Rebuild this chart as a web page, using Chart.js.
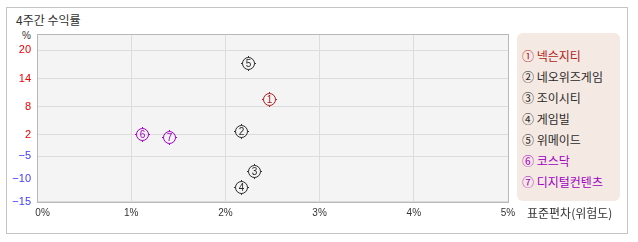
<!DOCTYPE html>
<html>
<head>
<meta charset="utf-8">
<script src="https://cdn.jsdelivr.net/npm/chart.js@4.4.1/dist/chart.umd.min.js"></script>
<style>
  html, body { margin:0; padding:0; background:#fff; }
  #wrap { position:relative; width:638px; height:242px; overflow:hidden; }
  #frame { position:absolute; left:6px; top:7px; width:622px; height:227px; box-sizing:border-box; border:1px solid #c4c4c4; }
  #title { position:absolute; left:16px; top:12px; font:12px "Noto Sans CJK KR", sans-serif; color:#333; line-height:16px; }
  #pct { position:absolute; left:22px; top:30px; font:10px "Liberation Sans", Arial, sans-serif; color:#333; }
  #xtitle { position:absolute; left:527px; top:205px; font:12px "Noto Sans CJK KR", sans-serif; color:#333; line-height:16px; }
  #legend { position:absolute; left:517px; top:33px; width:103px; height:168px; background:#f5e9e3; border-radius:6px; box-sizing:border-box; padding:12px 0 0 5px; }
  #legend div { font:12px "Noto Sans CJK KR", sans-serif; line-height:21px; height:21px; white-space:nowrap; }
  canvas { position:absolute; left:0; top:0; }
</style>
</head>
<body>
<div id="wrap">
  <div id="frame"></div>
  <div id="title">4주간 수익률</div>
  <div id="pct">%</div>
  <canvas id="c" width="638" height="242"></canvas>
  <div id="legend"></div>
  <div id="xtitle">표준편차(위험도)</div>
</div>
<script>
// ---- data ----
const names = ['넥슨지티', '네오위즈게임', '조이시티', '게임빌', '위메이드', '코스닥', '디지털컨텐츠'];
const marks = ['①', '②', '③', '④', '⑤', '⑥', '⑦'];
const stdDev = [2.46, 2.17, 2.30, 2.17, 2.24, 1.11, 1.40];   // x: 표준편차 (%)
const returns = [9.7, 2.8, -8.2, -11.8, 17.4, 2.15, 1.2];   // y: 4주간 수익률 (%)
const xTicks = [0, 1, 2, 3, 4, 5];
const yTicks = [20, 14, 8, 2, -5, -10, -15];
const colors = ['#b01c1c', '#2a2a2a', '#2a2a2a', '#2a2a2a', '#2a2a2a', '#a000c0', '#a000c0'];

// ---- non-uniform y scale (tick spacing of the original chart) ----
const knotVals = [-15, -10, -5, 2, 8, 14, 20, 23.5];
const knotPos  = [0, 0.134, 0.270, 0.399, 0.566, 0.733, 0.903, 1];
function toFrac(v) {
  let i = 0;
  while (i < knotVals.length - 2 && v > knotVals[i + 1]) i++;
  const a = knotVals[i], b = knotVals[i + 1];
  return knotPos[i] + (v - a) / (b - a) * (knotPos[i + 1] - knotPos[i]);
}
function fromFrac(f) {
  let i = 0;
  while (i < knotPos.length - 2 && f > knotPos[i + 1]) i++;
  const a = knotPos[i], b = knotPos[i + 1];
  return knotVals[i] + (f - a) / (b - a) * (knotVals[i + 1] - knotVals[i]);
}
class PiecewiseScale extends Chart.LinearScale {
  getPixelForValue(v) { return this.getPixelForDecimal(toFrac(v)); }
  getValueForPixel(p) { return fromFrac(this.getDecimalForPixel(p)); }
}
PiecewiseScale.id = 'piecewise';
PiecewiseScale.defaults = Chart.LinearScale.defaults;
Chart.register(PiecewiseScale);

// ---- legend ----
const lg = document.getElementById('legend');
names.forEach((n, i) => {
  const d = document.createElement('div');
  d.style.color = colors[i];
  d.textContent = marks[i] + ' ' + n;
  lg.appendChild(d);
});

// ---- plugins ----
const plotBg = {
  id: 'plotBg',
  beforeDraw(chart) {
    const { ctx, chartArea: a } = chart;
    ctx.save(); ctx.fillStyle = '#f4f4f4';
    ctx.fillRect(a.left, a.top, a.right - a.left, a.bottom - a.top);
    ctx.restore();
  },
  beforeDatasetsDraw(chart) {
    const { ctx, chartArea: a } = chart;
    ctx.save(); ctx.strokeStyle = '#b8b8b8'; ctx.lineWidth = 1;
    ctx.strokeRect(Math.round(a.left) + 0.5, Math.round(a.top) + 0.5,
                   Math.round(a.right - a.left), Math.round(a.bottom - a.top));
    ctx.restore();
  },
  afterDatasetsDraw(chart) {
    const { ctx } = chart;
    const meta = chart.getDatasetMeta(0);
    ctx.save();
    meta.data.forEach((el, i) => {
      const cx = Math.round(el.x) + 0.5, cy = Math.round(el.y) + 0.5, r = 6;
      const col = colors[i];
      ctx.strokeStyle = col; ctx.lineWidth = 1;
      ctx.beginPath(); ctx.arc(cx, cy, r, 0, Math.PI * 2); ctx.stroke();
      ctx.beginPath();
      ctx.moveTo(cx, cy - r - 1.5); ctx.lineTo(cx, cy - r);
      ctx.moveTo(cx, cy + r); ctx.lineTo(cx, cy + r + 1.5);
      ctx.moveTo(cx - r - 1.5, cy); ctx.lineTo(cx - r, cy);
      ctx.moveTo(cx + r, cy); ctx.lineTo(cx + r + 1.5, cy);
      ctx.stroke();
      ctx.fillStyle = col;
      ctx.font = '10px "Liberation Sans", Arial, sans-serif';
      ctx.textAlign = 'center'; ctx.textBaseline = 'middle';
      ctx.fillText(String(i + 1), cx, cy + 0.5);
    });
    ctx.restore();
  }
};

Chart.defaults.font.family = '"Liberation Sans", Arial, sans-serif';

new Chart(document.getElementById('c'), {
  type: 'scatter',
  data: {
    datasets: [{
      label: '4주간 수익률',
      data: stdDev.map((x, i) => ({ x: x, y: returns[i] })),
      pointRadius: 0,
      pointHoverRadius: 0
    }]
  },
  options: {
    responsive: false,
    animation: false,
    events: [],
    layout: { padding: { top: 34, right: 130, bottom: 0, left: 0 } },
    plugins: { legend: { display: false }, tooltip: { enabled: false } },
    scales: {
      x: {
        type: 'linear', min: 0, max: 5,
        afterFit(s) { s.height = 40.5; },
        afterBuildTicks(s) { s.ticks = xTicks.map(v => ({ value: v })); },
        grid: { color: '#dcdcdc', drawTicks: false },
        border: { display: false },
        ticks: {
          autoSkip: false, maxRotation: 0, padding: 6, color: '#333',
          font: { size: 10 },
          callback: (v) => (v === 0 ? '    ' : '') + v + '%'
        }
      },
      y: {
        type: 'piecewise', min: -15, max: 23.5,
        afterFit(s) { s.width = 37; },
        afterBuildTicks(s) { s.ticks = yTicks.map(v => ({ value: v })); },
        grid: {
          drawTicks: false,
          color: (ctx) => (ctx.tick && ctx.tick.value === -10) ? 'rgba(0,0,0,0)' : '#dcdcdc'
        },
        border: { display: false },
        ticks: {
          autoSkip: false, padding: 6,
          font: { size: 11 },
          color: (ctx) => (ctx.tick && ctx.tick.value > 0) ? '#ee0000' : '#3c3cff',
          callback: (v) => String(v).replace('-', '\u2212')
        }
      }
    }
  },
  plugins: [plotBg]
});
</script>
</body>
</html>
